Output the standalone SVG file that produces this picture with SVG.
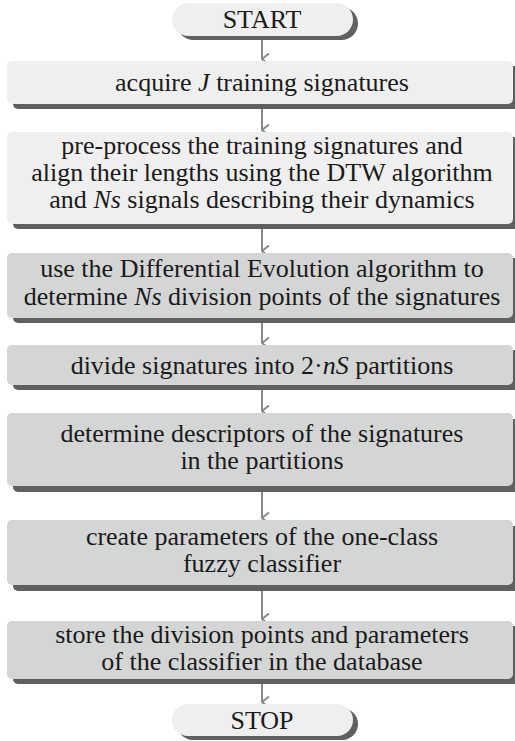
<svg xmlns="http://www.w3.org/2000/svg" width="515" height="741" viewBox="0 0 515 741">
  <style>
    text { font-family: 'Liberation Serif', 'Times New Roman', Times, serif; font-size: 26px; fill: #1a1a1a; text-anchor: middle; }
    .shadow { fill: #606060; }
    .light { fill: #efefef; }
    .dark { fill: #d4d5d5; }
    .conn { stroke: #8a8a8a; stroke-width: 2; fill: none; }
    .i { font-style: italic; }
  </style>
  <defs>
    <marker id="head" viewBox="0 0 14 9" refX="7" refY="8" markerWidth="14" markerHeight="9" markerUnits="userSpaceOnUse" orient="auto">
      <path d="M1.5,1 L7,8 L12.5,1" fill="none" stroke="#8a8a8a" stroke-width="2"/>
    </marker>
  </defs>

  <!-- connectors -->
  <g id="connectors">
    <line class="conn" x1="262" y1="37" x2="262" y2="59" marker-end="url(#head)"/>
    <line class="conn" x1="262" y1="108" x2="262" y2="130" marker-end="url(#head)"/>
    <line class="conn" x1="262" y1="228" x2="262" y2="251" marker-end="url(#head)"/>
    <line class="conn" x1="262" y1="321" x2="262" y2="343" marker-end="url(#head)"/>
    <line class="conn" x1="262" y1="389" x2="262" y2="411" marker-end="url(#head)"/>
    <line class="conn" x1="262" y1="490" x2="262" y2="518" marker-end="url(#head)"/>
    <line class="conn" x1="262" y1="589" x2="262" y2="619" marker-end="url(#head)"/>
    <line class="conn" x1="262" y1="683" x2="262" y2="702" marker-end="url(#head)"/>
  </g>

  <g id="start">
    <rect class="shadow" x="177" y="7" width="181" height="33" rx="16.5"/>
    <rect class="light" x="172" y="3" width="181" height="33" rx="16.5"/>
    <text x="262" y="28">START</text>
  </g>

  <g id="acquire">
    <rect class="shadow" x="13" y="66" width="506" height="43" rx="5"/>
    <rect class="light" x="7" y="61" width="506" height="43" rx="5"/>
    <text x="262" y="91">acquire <tspan class="i">J</tspan> training signatures</text>
  </g>

  <g id="preprocess">
    <rect class="shadow" x="13" y="137" width="506" height="92" rx="5"/>
    <rect class="light" x="7" y="132" width="506" height="92" rx="5"/>
    <text x="262" y="154">pre-process the training signatures and</text>
    <text x="262" y="181">align their lengths using the DTW algorithm</text>
    <text x="262" y="208">and <tspan class="i">Ns</tspan> signals describing their dynamics</text>
  </g>

  <g id="evolution">
    <rect class="shadow" x="13" y="258" width="506" height="65" rx="5"/>
    <rect class="dark" x="7" y="253" width="506" height="65" rx="5"/>
    <text x="262" y="277">use the Differential Evolution algorithm to</text>
    <text x="262" y="305">determine <tspan class="i">Ns</tspan> division points of the signatures</text>
  </g>

  <g id="divide">
    <rect class="shadow" x="13" y="350" width="506" height="40" rx="5"/>
    <rect class="dark" x="7" y="345" width="506" height="40" rx="5"/>
    <text x="262" y="374">divide signatures into 2·<tspan class="i">nS</tspan> partitions</text>
  </g>

  <g id="descriptors">
    <rect class="shadow" x="13" y="419" width="506" height="73" rx="5"/>
    <rect class="dark" x="7" y="413" width="506" height="73" rx="5"/>
    <text x="262" y="442">determine descriptors of the signatures</text>
    <text x="262" y="469">in the partitions</text>
  </g>

  <g id="classifier">
    <rect class="shadow" x="13" y="526" width="506" height="65" rx="5"/>
    <rect class="dark" x="7" y="520" width="506" height="65" rx="5"/>
    <text x="262" y="545">create parameters of the one-class</text>
    <text x="262" y="572">fuzzy classifier</text>
  </g>

  <g id="store">
    <rect class="shadow" x="13" y="626" width="506" height="58" rx="5"/>
    <rect class="dark" x="7" y="621" width="506" height="58" rx="5"/>
    <text x="262" y="643">store the division points and parameters</text>
    <text x="262" y="670">of the classifier in the database</text>
  </g>

  <g id="stop">
    <rect class="shadow" x="177" y="708" width="181" height="32" rx="16"/>
    <rect class="light" x="172" y="704" width="181" height="32" rx="16"/>
    <text x="262" y="729">STOP</text>
  </g>
</svg>
